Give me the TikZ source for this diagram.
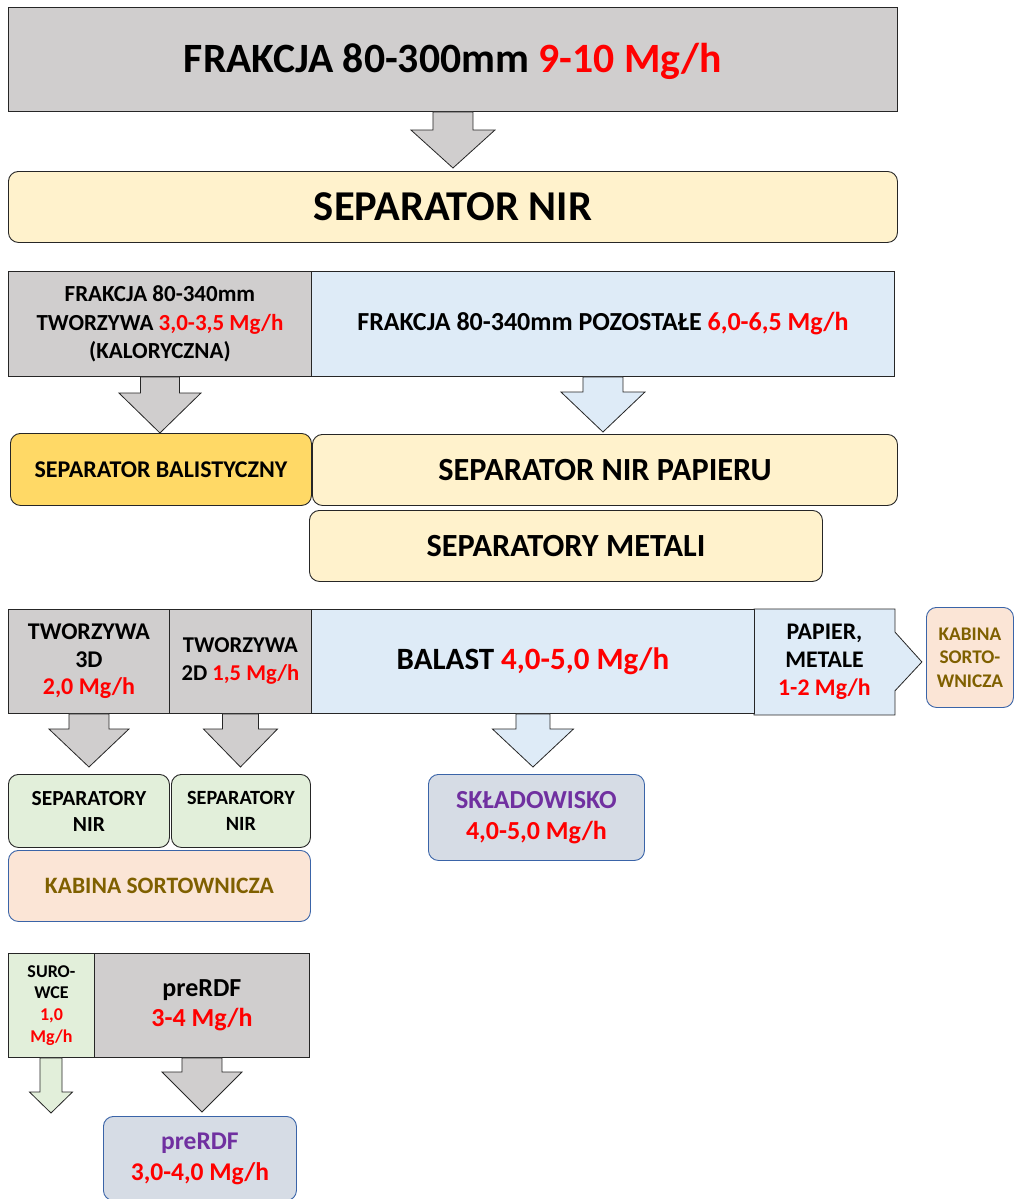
\documentclass[tikz,border=0pt]{standalone}
\usepackage{fontspec}
\setmainfont{Carlito}
\usetikzlibrary{calc,backgrounds}

\definecolor{feedgray}{HTML}{D0CECE}
\definecolor{cream}{HTML}{FFF2CC}
\definecolor{goldfill}{HTML}{FFD966}
\definecolor{paleblue}{HTML}{DEEBF7}
\definecolor{palegreen}{HTML}{E2EFDA}
\definecolor{peach}{HTML}{FBE5D6}
\definecolor{slatefill}{HTML}{D6DCE5}
\definecolor{edgeblue}{HTML}{3A64A8}
\definecolor{cabinolive}{HTML}{7F6000}
\definecolor{dumppurple}{HTML}{7030A0}
\definecolor{rateRed}{HTML}{FF0000}

\newcommand{\rate}[1]{\textcolor{rateRed}{#1}}
\newcommand{\fsz}[2]{\fontsize{#1}{#2}\selectfont\bfseries}
% block arrow: fill, from, tip, shaft half width, head half width, head length
\newcommand{\blockdown}[6]{%
  \draw[arrowline, fill=#1] let \p1=(#2), \p2=(#3) in
    (\x1-#4pt,\y1) -- (\x1-#4pt,\y2+#6pt) -- (\x1-#5pt,\y2+#6pt) -- (\x1,\y2)
    -- (\x1+#5pt,\y2+#6pt) -- (\x1+#4pt,\y2+#6pt) -- (\x1+#4pt,\y1) -- cycle;}

\begin{document}
\begin{tikzpicture}[x=1pt,y=-1pt,
  flat/.style={draw=black!85, line width=0.9pt, inner sep=0pt, align=center, anchor=north west},
  soft/.style={flat, rounded corners=10pt},
  blueedge/.style={draw=edgeblue},
  arrowline/.style={draw=black!85, line width=0.8pt, line join=miter}]
\useasboundingbox (0,0) rectangle (1014,1199);

% feed and first separator
\node[flat, fill=feedgray, minimum width=889pt, minimum height=104pt, text height=33pt, font=\fsz{41.7}{48}] (feed) at (8,7) {FRAKCJA 80-300mm \rate{9-10 Mg/h}};
\node[soft, fill=cream, minimum width=889pt, minimum height=71pt, font=\fsz{42.5}{48}] (nir) at (8,171) {SEPARATOR NIR};

% split after NIR
\node[flat, fill=feedgray, minimum width=303pt, minimum height=105pt, font=\fsz{23}{28.5}] (calor) at (8,271) {FRAKCJA 80-340mm\\TWORZYWA \rate{3,0-3,5 Mg/h}\\(KALORYCZNA)};
\node[flat, fill=paleblue, minimum width=583pt, minimum height=105pt, font=\fsz{26}{30}] (rest) at (311,271) {FRAKCJA 80-340mm POZOSTAŁE \rate{6,0-6,5 Mg/h}};

\node[soft, fill=goldfill, minimum width=301pt, minimum height=72pt, font=\fsz{24}{28}] (balist) at (10,433) {SEPARATOR BALISTYCZNY};
\node[soft, fill=cream, minimum width=585pt, minimum height=71pt, font=\fsz{32.3}{36}] (paper) at (312,434) {SEPARATOR NIR PAPIERU};
\node[soft, fill=cream, minimum width=513pt, minimum height=71pt, font=\fsz{32.3}{36}] (metal) at (309,510) {SEPARATORY METALI};

% products
\node[flat, fill=feedgray, minimum width=161pt, minimum height=104pt, font=\fsz{24}{27.5}] (t3d) at (8,609) {TWORZYWA\\3D\\\rate{2,0 Mg/h}};
\node[flat, fill=feedgray, minimum width=142pt, minimum height=104pt, font=\fsz{22.6}{28}] (t2d) at (169,609) {TWORZYWA\\2D \rate{1,5 Mg/h}};
\node[flat, fill=paleblue, minimum width=443pt, minimum height=104pt, font=\fsz{31}{36}] (balast) at (311,609) {BALAST \rate{4,0-5,0 Mg/h}};
\node[flat, draw=none, minimum width=140pt, minimum height=105pt, font=\fsz{23.8}{28}] (papmet) at (754,609) {PAPIER,\\METALE\\\rate{1-2 Mg/h}};
\begin{scope}[on background layer]
\draw[arrowline, fill=paleblue] (papmet.north west) -- (papmet.north east) -- ++(0,23)
  -- ($(papmet.east)+(27,0)$) -- ($(papmet.south east)+(0,-24)$) -- (papmet.south east)
  -- (papmet.south west) -- cycle;
\end{scope}
\node[soft, blueedge, fill=peach, minimum width=87pt, minimum height=100pt, text=cabinolive, font=\fsz{19.3}{23.5}] (cabside) at (926,607) {KABINA\\SORTO-\\WNICZA};

\node[soft, fill=palegreen, minimum width=161pt, minimum height=73pt, font=\fsz{21.5}{26}] (nir3d) at (8,774) {SEPARATORY\\NIR};
\node[soft, fill=palegreen, minimum width=139pt, minimum height=73pt, font=\fsz{20.2}{26}] (nir2d) at (171,774) {SEPARATORY\\NIR};
\node[soft, blueedge, fill=peach, minimum width=302pt, minimum height=71pt, text=cabinolive, font=\fsz{23.5}{28}] (cabin) at (8,850) {KABINA SORTOWNICZA};
\node[soft, blueedge, fill=slatefill, minimum width=216pt, minimum height=86pt, font=\fsz{26}{31}] (dump) at (428,774) {\textcolor{dumppurple}{SKŁADOWISKO}\\\rate{4,0-5,0 Mg/h}};

% second stage
\node[flat, fill=palegreen, minimum width=86pt, minimum height=104pt, font=\fsz{18}{21.7}] (raw) at (8,953) {SURO-\\WCE\\\rate{1,0}\\\rate{Mg/h}};
\node[flat, fill=feedgray, minimum width=215pt, minimum height=104pt, font=\fsz{26}{30}] (pre) at (94,953) {preRDF\\\rate{3-4 Mg/h}};
\node[soft, blueedge, fill=slatefill, minimum width=193pt, minimum height=84pt, font=\fsz{25.5}{31}] (rdf) at (103,1116) {\textcolor{dumppurple}{preRDF}\\\rate{3,0-4,0 Mg/h}};
\coordinate (rawout) at (51,1113);

% flow arrows
\blockdown{feedgray}{feed.south}{$(feed.south |- nir.north)+(0,-3)$}{20}{42}{38}
\blockdown{feedgray}{calor.south}{calor.south |- balist.north}{19.5}{41}{40}
\blockdown{paleblue}{rest.south}{$(rest.south |- paper.north)+(0,-2)$}{20}{42}{40}
\blockdown{feedgray}{t3d.south}{$(t3d.south |- nir3d.north)+(0,-7)$}{20}{40}{38}
\blockdown{feedgray}{t2d.south}{$(t2d.south |- nir2d.north)+(0,-7)$}{18}{37}{38}
\blockdown{paleblue}{balast.south}{$(balast.south |- dump.north)+(0,-7)$}{17}{40.5}{38}
\blockdown{palegreen}{raw.south -| rawout}{rawout}{11}{21.5}{21}
\blockdown{feedgray}{pre.south}{$(pre.south |- rdf.north)+(0,-4)$}{20}{40}{40}
\end{tikzpicture}
\end{document}
